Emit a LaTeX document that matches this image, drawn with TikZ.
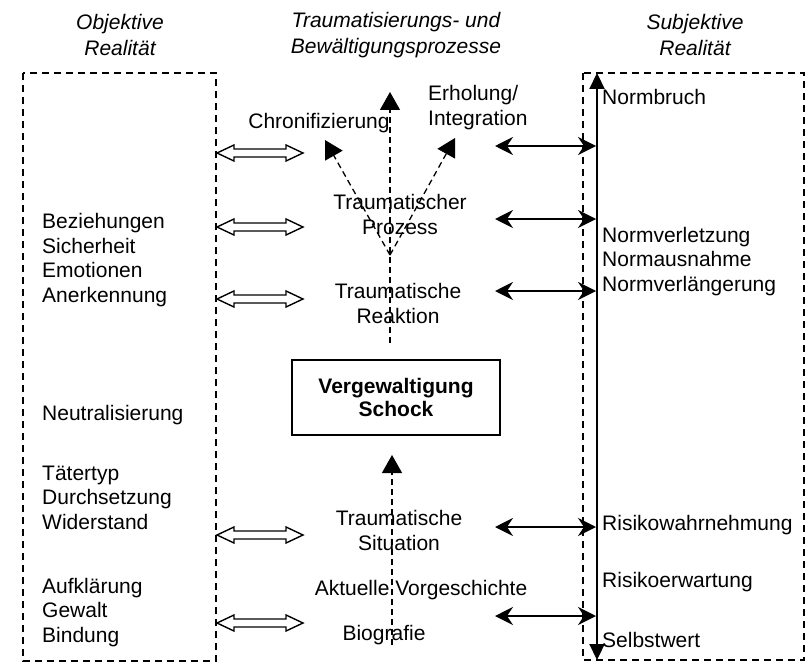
\documentclass[tikz,border=0pt]{standalone}
\usepackage{fontspec}
\setmainfont{Liberation Sans}
\usetikzlibrary{arrows.meta, positioning}

\begin{document}
\begin{tikzpicture}[x=1pt, y=-1pt,
  every node/.style={font=\fontsize{21}{24.5}\selectfont, inner sep=0pt},
  head/.style={align=center, font=\fontsize{21}{26}\selectfont\itshape},
  item/.style={align=left, anchor=west},
  mid/.style={align=center},
  shockbox/.style={draw, line width=1.8pt, minimum width=208pt, minimum height=75pt,
    align=center, font=\fontsize{21}{23}\selectfont\bfseries},
  frame/.style={dash pattern=on 7pt off 5pt, line width=1.4pt},
  hollow/.style={line width=1.4pt, line join=miter},
  link/.style={line width=2pt,
    {Stealth[length=18pt,width=18pt,inset=6pt]}-{Stealth[length=18pt,width=18pt,inset=6pt]}},
  flow/.style={dash pattern=on 6pt off 4pt, line width=1.3pt, -{Triangle[length=18pt,width=20pt]}},
  normaxis/.style={line width=2.2pt, {Triangle[length=16pt,width=15pt]}-{Triangle[length=16pt,width=15pt]}}
]
  \useasboundingbox (0,0) rectangle (810,663);

  % --- Headings ---
  \node[head] (objhead)  at (120,35) {Objektive\\Realität};
  \node[head] (prochead) at (396,35) {Traumatisierungs- und\\Bewältigungsprozesse};
  \node[head] (subjhead) at (695,35) {Subjektive\\Realität};

  % --- Frames ---
  \draw[frame] (23,73) rectangle (216,661);
  \draw[frame] (583,73) rectangle (804,660);

  % --- Objective side ---
  \node[item] (bez)  at (42,260)   {Beziehungen\\Sicherheit\\Emotionen\\Anerkennung};
  \node[item] (neut) at (42,415)   {Neutralisierung};
  \node[item] (taet) at (42,497.5) {Tätertyp\\Durchsetzung\\Widerstand};
  \node[item] (aufk) at (42,612.5) {Aufklärung\\Gewalt\\Bindung};

  % --- Process column ---
  \node[mid]  (chron)   at (319,123)   {Chronifizierung};
  \node[item] (erhol)   at (428,107.5) {Erholung/\\Integration};
  \node[mid]  (prozess) at (400,214.5) {Traumatischer\\Prozess};
  \node[mid]  (reakt)   at (398,303.5) {Traumatische\\Reaktion};
  \node[shockbox] (shock) at (396,397.5) {Vergewaltigung\\Schock};
  \node[mid]  (situ)    at (399,530.5) {Traumatische\\Situation};
  \node[mid]  (vorg)    at (421,590)   {Aktuelle Vorgeschichte};
  \node[mid]  (bio)     at (384,635)   {Biografie};

  % --- Subjective side ---
  \node[item] (bruch) at (602,97)    {Normbruch};
  \node[item] (norm)  at (602,261.5) {Normverletzung\\Normausnahme\\Normverlängerung};
  \node[item] (riwa)  at (602,525)   {Risikowahrnehmung};
  \node[item] (rier)  at (602,582)   {Risikoerwartung};
  \node[item] (selb)  at (602,640)   {Selbstwert};

  % --- Dashed process arrows ---
  \coordinate (upstart) at (390,343);
  \coordinate (uptip)   at (390,92);
  \coordinate (fork)    at (390,255);
  \coordinate (chrtip)  at (325,140);
  \coordinate (erhtip)  at (455,138);
  \coordinate (lowstart) at (392,645);
  \coordinate (lowtip)  at (392,455);
  \draw[flow] (upstart) -- (uptip);
  \draw[flow] (fork) -- (chrtip);
  \draw[flow] (fork) -- (erhtip);
  \draw[flow] (lowstart) -- (lowtip);

  % --- Norm axis ---
  \coordinate (axtop) at (597,73);
  \coordinate (axbot) at (597,660);
  \draw[normaxis] (axbot) -- (axtop);

  % --- Connections to both sides ---
  % hollow double arrows (outline)
  \foreach \y [count=\i] in {153,227,299,535,623} {
    \coordinate (ol\i) at (217,\y);
    \coordinate (or\i) at (303,\y);
    \draw[hollow] (ol\i) -- ++(17,-8) -- ++(0,4) -- ++(52,0) -- ++(0,-4) -- (or\i)
      -- ++(-17,8) -- ++(0,-4) -- ++(-52,0) -- ++(0,4) -- cycle;
  }
  % solid double arrows
  \foreach \y [count=\i] in {146,219,291,527,616} {
    \coordinate (sl\i) at (495,\y);
    \coordinate (sr\i) at (596,\y);
    \draw[link] (sl\i) -- (sr\i);
  }
\end{tikzpicture}
\end{document}
